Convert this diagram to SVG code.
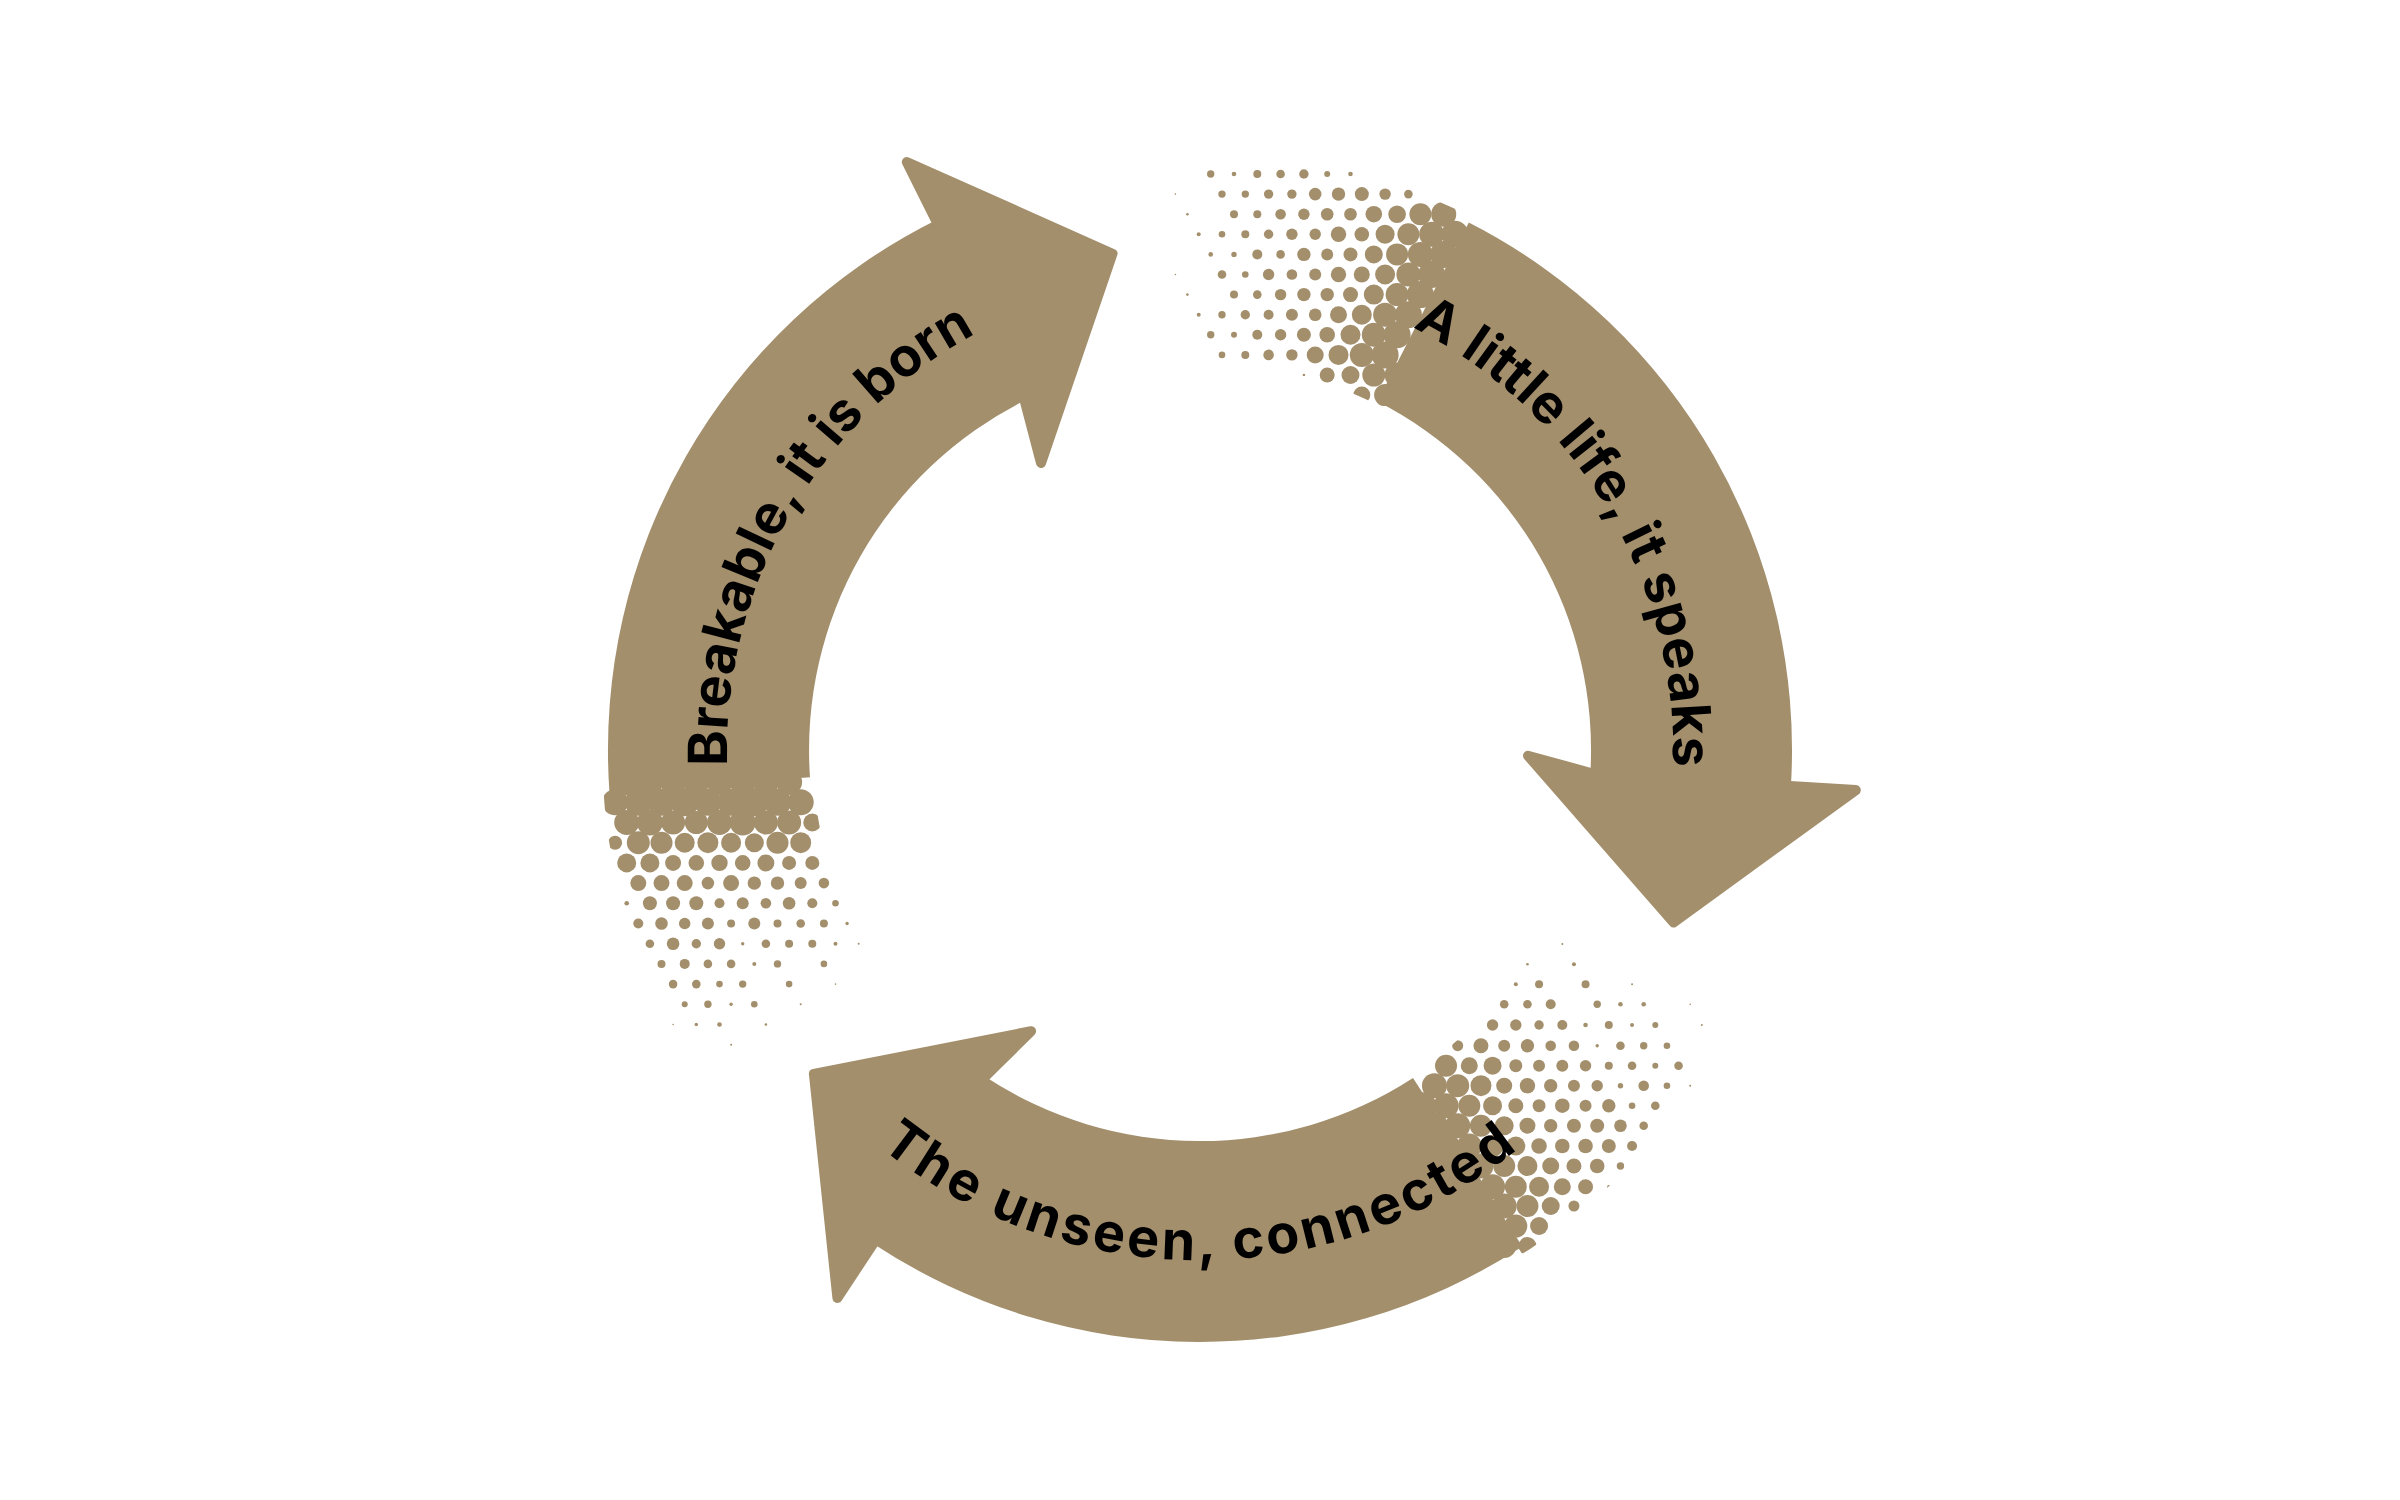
<svg xmlns="http://www.w3.org/2000/svg" width="2400" height="1500" viewBox="0 0 2400 1500">
<style>
.body{fill:#a38f6c}
.head{fill:#a38f6c;stroke:#a38f6c;stroke-width:10;stroke-linejoin:round}
.dots{fill:#a38f6c}
.label{font-family:Inter,'Noto Sans',sans-serif;font-weight:700;font-size:54px;fill:#000}
</style>
<defs>
<clipPath id="band"><path clip-rule="evenodd" d="M1798,750 A598,598 0 1 0 602,750 A598,598 0 1 0 1798,750 Z M1588,750 A388,388 0 1 0 812,750 A388,388 0 1 0 1588,750 Z"/></clipPath>
<path id="p-born" d="M790.8,987.2 A473,473 0 0 1 1199.2,277"/>
<path id="p-speaks" d="M1195,277 A473,473 0 0 1 1612.1,982.2"/>
<path id="p-connected" d="M758.3,1005 A510,510 0 0 0 1641.7,1005"/>
</defs>
<rect width="2400" height="1500" fill="#fff"/>
<g id="cycle">
<g id="arrow-born">
<path class="body" d="M609.4,791.3 A592,592 0 0 1 935.9,220.2 L1025.5,400.1 A391,391 0 0 0 810,777.3 Z"/>
<polygon class="head" points="938.1,224.7 906.8,162 1112.5,253.7 1041,463.1 1023.3,395.6"/>
<g class="dots" clip-path="url(#band)">
<circle cx="626.7" cy="782.1" r="13"/><circle cx="649.9" cy="782.1" r="13"/><circle cx="673.1" cy="782.1" r="13"/><circle cx="696.3" cy="782.1" r="13"/><circle cx="719.5" cy="782.1" r="13"/><circle cx="742.7" cy="782.1" r="13"/><circle cx="765.9" cy="782.1" r="13"/><circle cx="789.1" cy="782.1" r="13"/>
<circle cx="615.1" cy="802.3" r="13"/><circle cx="638.3" cy="802.3" r="13.5"/><circle cx="661.5" cy="802.3" r="13.5"/><circle cx="684.7" cy="802.3" r="14"/><circle cx="707.9" cy="802.3" r="13.5"/><circle cx="731.1" cy="802.3" r="13.5"/><circle cx="754.3" cy="802.3" r="14"/><circle cx="777.5" cy="802.3" r="13.5"/><circle cx="800.7" cy="802.3" r="13"/>
<circle cx="626.7" cy="822.5" r="12.5"/><circle cx="649.9" cy="822.5" r="13"/><circle cx="673.1" cy="822.5" r="12"/><circle cx="696.3" cy="822.5" r="11.5"/><circle cx="719.5" cy="822.5" r="12.5"/><circle cx="742.7" cy="822.5" r="13"/><circle cx="765.9" cy="822.5" r="12"/><circle cx="789.1" cy="822.5" r="12"/><circle cx="812.3" cy="822.5" r="9"/>
<circle cx="615.1" cy="842.7" r="7"/><circle cx="638.3" cy="842.7" r="11.5"/><circle cx="661.5" cy="842.7" r="11"/><circle cx="684.7" cy="842.7" r="10"/><circle cx="707.9" cy="842.7" r="10.5"/><circle cx="731.1" cy="842.7" r="10"/><circle cx="754.3" cy="842.7" r="9.5"/><circle cx="777.5" cy="842.7" r="11"/><circle cx="800.7" cy="842.7" r="10.5"/>
<circle cx="626.7" cy="862.9" r="9.5"/><circle cx="649.9" cy="862.9" r="9.5"/><circle cx="673.1" cy="862.9" r="8"/><circle cx="696.3" cy="862.9" r="7.8"/><circle cx="719.5" cy="862.9" r="8.2"/><circle cx="742.7" cy="862.9" r="7.8"/><circle cx="765.9" cy="862.9" r="8.5"/><circle cx="789.1" cy="862.9" r="7"/><circle cx="812.3" cy="862.9" r="7"/>
<circle cx="638.3" cy="883.1" r="8"/><circle cx="661.5" cy="883.1" r="8"/><circle cx="684.7" cy="883.1" r="8"/><circle cx="707.9" cy="883.1" r="6.3"/><circle cx="731.1" cy="883.1" r="8"/><circle cx="754.3" cy="883.1" r="6.7"/><circle cx="777.5" cy="883.1" r="6.7"/><circle cx="800.7" cy="883.1" r="6"/><circle cx="823.9" cy="883.1" r="5.3"/>
<circle cx="626.7" cy="903.3" r="2.3"/><circle cx="649.9" cy="903.3" r="7"/><circle cx="673.1" cy="903.3" r="7"/><circle cx="696.3" cy="903.3" r="7"/><circle cx="719.5" cy="903.3" r="5"/><circle cx="742.7" cy="903.3" r="6"/><circle cx="765.9" cy="903.3" r="5.3"/><circle cx="789.1" cy="903.3" r="6.3"/><circle cx="812.3" cy="903.3" r="5"/><circle cx="835.5" cy="903.3" r="3.3"/>
<circle cx="638.3" cy="923.5" r="5"/><circle cx="661.5" cy="923.5" r="6.3"/><circle cx="684.7" cy="923.5" r="5.7"/><circle cx="707.9" cy="923.5" r="6"/><circle cx="731.1" cy="923.5" r="4"/><circle cx="754.3" cy="923.5" r="6"/><circle cx="777.5" cy="923.5" r="4"/><circle cx="800.7" cy="923.5" r="4.3"/><circle cx="823.9" cy="923.5" r="4"/><circle cx="847.1" cy="923.5" r="1.7"/>
<circle cx="649.9" cy="943.7" r="4.3"/><circle cx="673.1" cy="943.7" r="6.3"/><circle cx="696.3" cy="943.7" r="4.7"/><circle cx="719.5" cy="943.7" r="5.7"/><circle cx="742.7" cy="943.7" r="1.7"/><circle cx="765.9" cy="943.7" r="4.3"/><circle cx="789.1" cy="943.7" r="4"/><circle cx="812.3" cy="943.7" r="4"/><circle cx="835.5" cy="943.7" r="2"/><circle cx="858.7" cy="943.7" r="1"/>
<circle cx="661.5" cy="963.9" r="4"/><circle cx="684.7" cy="963.9" r="5"/><circle cx="707.9" cy="963.9" r="4.3"/><circle cx="731.1" cy="963.9" r="4.3"/><circle cx="754.3" cy="963.9" r="2"/><circle cx="777.5" cy="963.9" r="3.7"/><circle cx="823.9" cy="963.9" r="3.3"/>
<circle cx="673.1" cy="984.1" r="4.3"/><circle cx="696.3" cy="984.1" r="4.3"/><circle cx="719.5" cy="984.1" r="3.3"/><circle cx="742.7" cy="984.1" r="3.7"/><circle cx="789.1" cy="984.1" r="3.3"/><circle cx="835.5" cy="984.1" r="0.8"/>
<circle cx="684.7" cy="1004.3" r="3"/><circle cx="707.9" cy="1004.3" r="3.7"/><circle cx="731.1" cy="1004.3" r="1.7"/><circle cx="754.3" cy="1004.3" r="3.3"/><circle cx="800.7" cy="1004.3" r="1"/>
<circle cx="673.1" cy="1024.5" r="0.8"/><circle cx="696.3" cy="1024.5" r="1.7"/><circle cx="719.5" cy="1024.5" r="2.3"/><circle cx="765.9" cy="1024.5" r="1.3"/>
<circle cx="731.1" cy="1044.7" r="1"/>
</g>
<text class="label" letter-spacing="0.2"><textPath href="#p-born" startOffset="50%" text-anchor="middle">Breakable, it is born</textPath></text>
</g>
<g id="arrow-speaks">
<path class="body" d="M1468.8,222.5 A592,592 0 0 1 1790.9,786.1 L1590.3,773.9 A391,391 0 0 0 1377.5,401.6 Z"/>
<polygon class="head" points="1785.9,785.8 1855.8,790.1 1673.6,922.4 1528,755.7 1595.3,774.2"/>
<g class="dots" clip-path="url(#band)">
<circle cx="1210.7" cy="174" r="3.7"/><circle cx="1234" cy="174" r="2.3"/><circle cx="1257.3" cy="174" r="4"/><circle cx="1280.6" cy="174" r="4.3"/><circle cx="1303.9" cy="174" r="4.7"/><circle cx="1327.2" cy="174" r="3"/><circle cx="1350.5" cy="174" r="2.3"/>
<circle cx="1175.4" cy="194.1" r="0.8"/><circle cx="1222" cy="194.1" r="3.7"/><circle cx="1245.3" cy="194.1" r="3.7"/><circle cx="1268.6" cy="194.1" r="4.7"/><circle cx="1291.9" cy="194.1" r="4.7"/><circle cx="1315.2" cy="194.1" r="6.3"/><circle cx="1338.5" cy="194.1" r="6.7"/><circle cx="1361.8" cy="194.1" r="7"/><circle cx="1385.1" cy="194.1" r="5.7"/><circle cx="1408.4" cy="194.1" r="4.3"/>
<circle cx="1187.4" cy="214.2" r="1.3"/><circle cx="1234" cy="214.2" r="4"/><circle cx="1257.3" cy="214.2" r="4"/><circle cx="1280.6" cy="214.2" r="5.3"/><circle cx="1303.9" cy="214.2" r="5.7"/><circle cx="1327.2" cy="214.2" r="6.3"/><circle cx="1350.5" cy="214.2" r="6.3"/><circle cx="1373.8" cy="214.2" r="8.3"/><circle cx="1397.1" cy="214.2" r="8.8"/><circle cx="1420.4" cy="214.2" r="11"/><circle cx="1443.7" cy="214.2" r="12.5"/>
<circle cx="1198.7" cy="234.3" r="2"/><circle cx="1222" cy="234.3" r="3.3"/><circle cx="1245.3" cy="234.3" r="4"/><circle cx="1268.6" cy="234.3" r="4.7"/><circle cx="1291.9" cy="234.3" r="5.7"/><circle cx="1315.2" cy="234.3" r="5.7"/><circle cx="1338.5" cy="234.3" r="7.7"/><circle cx="1361.8" cy="234.3" r="7.3"/><circle cx="1385.1" cy="234.3" r="9.5"/><circle cx="1408.4" cy="234.3" r="11"/><circle cx="1431.7" cy="234.3" r="12.5"/><circle cx="1455" cy="234.3" r="13.5"/>
<circle cx="1210.7" cy="254.4" r="2.3"/><circle cx="1234" cy="254.4" r="2.7"/><circle cx="1257.3" cy="254.4" r="5"/><circle cx="1280.6" cy="254.4" r="4.3"/><circle cx="1303.9" cy="254.4" r="6.7"/><circle cx="1327.2" cy="254.4" r="6"/><circle cx="1350.5" cy="254.4" r="7"/><circle cx="1373.8" cy="254.4" r="9"/><circle cx="1397.1" cy="254.4" r="11"/><circle cx="1420.4" cy="254.4" r="12.5"/><circle cx="1443.7" cy="254.4" r="13.5"/>
<circle cx="1175.4" cy="274.5" r="0.8"/><circle cx="1222" cy="274.5" r="4.3"/><circle cx="1245.3" cy="274.5" r="3.3"/><circle cx="1268.6" cy="274.5" r="5.7"/><circle cx="1291.9" cy="274.5" r="5.3"/><circle cx="1315.2" cy="274.5" r="6"/><circle cx="1338.5" cy="274.5" r="7.7"/><circle cx="1361.8" cy="274.5" r="8"/><circle cx="1385.1" cy="274.5" r="10"/><circle cx="1408.4" cy="274.5" r="12"/><circle cx="1431.7" cy="274.5" r="13.5"/>
<circle cx="1187.4" cy="294.6" r="1.3"/><circle cx="1234" cy="294.6" r="4"/><circle cx="1257.3" cy="294.6" r="4.3"/><circle cx="1280.6" cy="294.6" r="5.7"/><circle cx="1303.9" cy="294.6" r="6.7"/><circle cx="1327.2" cy="294.6" r="6.7"/><circle cx="1350.5" cy="294.6" r="7.5"/><circle cx="1373.8" cy="294.6" r="10"/><circle cx="1397.1" cy="294.6" r="11.5"/><circle cx="1420.4" cy="294.6" r="13.5"/>
<circle cx="1198.7" cy="314.7" r="2"/><circle cx="1222" cy="314.7" r="3.7"/><circle cx="1245.3" cy="314.7" r="4.7"/><circle cx="1268.6" cy="314.7" r="5"/><circle cx="1291.9" cy="314.7" r="6"/><circle cx="1315.2" cy="314.7" r="6.3"/><circle cx="1338.5" cy="314.7" r="8.5"/><circle cx="1361.8" cy="314.7" r="10"/><circle cx="1385.1" cy="314.7" r="12"/><circle cx="1408.4" cy="314.7" r="13.5"/>
<circle cx="1210.7" cy="334.8" r="3.7"/><circle cx="1234" cy="334.8" r="3"/><circle cx="1257.3" cy="334.8" r="5"/><circle cx="1280.6" cy="334.8" r="5.7"/><circle cx="1303.9" cy="334.8" r="7"/><circle cx="1327.2" cy="334.8" r="7.8"/><circle cx="1350.5" cy="334.8" r="10"/><circle cx="1373.8" cy="334.8" r="12"/><circle cx="1397.1" cy="334.8" r="13.5"/>
<circle cx="1222" cy="354.9" r="3.3"/><circle cx="1245.3" cy="354.9" r="4"/><circle cx="1268.6" cy="354.9" r="5.3"/><circle cx="1291.9" cy="354.9" r="5.7"/><circle cx="1315.2" cy="354.9" r="8.5"/><circle cx="1338.5" cy="354.9" r="10"/><circle cx="1361.8" cy="354.9" r="12"/><circle cx="1385.1" cy="354.9" r="13.5"/>
<circle cx="1303.9" cy="375" r="1.3"/><circle cx="1327.2" cy="375" r="7.5"/><circle cx="1350.5" cy="375" r="9"/><circle cx="1373.8" cy="375" r="11.5"/><circle cx="1397.1" cy="375" r="12.5"/>
<circle cx="1361.8" cy="395.1" r="8.5"/><circle cx="1385.1" cy="395.1" r="11"/>
</g>
<text class="label" letter-spacing="0.5"><textPath href="#p-speaks" startOffset="50%" text-anchor="middle">A little life, it speaks</textPath></text>
</g>
<g id="arrow-connected">
<path class="body" d="M1522.4,1246.5 A592,592 0 0 1 873.3,1243.7 L984.2,1076.1 A391,391 0 0 0 1413,1077.9 Z"/>
<polygon class="head" points="876,1239.5 837.4,1297.9 813.9,1074 1031.1,1031.2 981.4,1080.2"/>
<g class="dots" clip-path="url(#band)">
<circle cx="1562.3" cy="944" r="1"/>
<circle cx="1527.45" cy="964.3" r="1.3"/><circle cx="1573.95" cy="964.3" r="2"/>
<circle cx="1515.8" cy="984.3" r="2"/><circle cx="1539.05" cy="984.3" r="4"/><circle cx="1585.55" cy="984.3" r="4"/><circle cx="1632.05" cy="984.3" r="1"/>
<circle cx="1504.2" cy="1004.3" r="4.3"/><circle cx="1527.45" cy="1004.3" r="4.3"/><circle cx="1550.7" cy="1004.3" r="5"/><circle cx="1597.2" cy="1004.3" r="3.7"/><circle cx="1620.45" cy="1004.3" r="2.3"/><circle cx="1643.7" cy="1004.3" r="2.3"/><circle cx="1690.2" cy="1004.3" r="0.8"/>
<circle cx="1469.3" cy="1025" r="1"/><circle cx="1492.55" cy="1025" r="5.7"/><circle cx="1515.8" cy="1025" r="5.7"/><circle cx="1539.05" cy="1025" r="4.7"/><circle cx="1562.3" cy="1025" r="5"/><circle cx="1585.55" cy="1025" r="2.3"/><circle cx="1608.8" cy="1025" r="4"/><circle cx="1632.05" cy="1025" r="2"/><circle cx="1655.3" cy="1025" r="3"/><circle cx="1701.8" cy="1025" r="1"/>
<circle cx="1457.7" cy="1045.7" r="5.5"/><circle cx="1480.95" cy="1045.7" r="7.5"/><circle cx="1504.2" cy="1045.7" r="6"/><circle cx="1527.45" cy="1045.7" r="6.7"/><circle cx="1550.7" cy="1045.7" r="5.3"/><circle cx="1573.95" cy="1045.7" r="5.3"/><circle cx="1597.2" cy="1045.7" r="1.7"/><circle cx="1620.45" cy="1045.7" r="4.3"/><circle cx="1643.7" cy="1045.7" r="3.7"/><circle cx="1666.95" cy="1045.7" r="3.3"/>
<circle cx="1446.05" cy="1065.7" r="11"/><circle cx="1469.3" cy="1065.7" r="8.5"/><circle cx="1492.55" cy="1065.7" r="9"/><circle cx="1515.8" cy="1065.7" r="6.5"/><circle cx="1539.05" cy="1065.7" r="6"/><circle cx="1562.3" cy="1065.7" r="6"/><circle cx="1585.55" cy="1065.7" r="5.7"/><circle cx="1608.8" cy="1065.7" r="4"/><circle cx="1632.05" cy="1065.7" r="4.3"/><circle cx="1655.3" cy="1065.7" r="3"/><circle cx="1678.55" cy="1065.7" r="4.3"/>
<circle cx="1434.45" cy="1085.7" r="12.5"/><circle cx="1457.7" cy="1085.7" r="11.5"/><circle cx="1480.95" cy="1085.7" r="10.5"/><circle cx="1504.2" cy="1085.7" r="8"/><circle cx="1527.45" cy="1085.7" r="7.7"/><circle cx="1550.7" cy="1085.7" r="6.7"/><circle cx="1573.95" cy="1085.7" r="6"/><circle cx="1597.2" cy="1085.7" r="5.7"/><circle cx="1620.45" cy="1085.7" r="2.7"/><circle cx="1643.7" cy="1085.7" r="5.3"/><circle cx="1666.95" cy="1085.7" r="3.3"/><circle cx="1690.2" cy="1085.7" r="1"/>
<circle cx="1422.8" cy="1105.7" r="13.5"/><circle cx="1446.05" cy="1105.7" r="12.5"/><circle cx="1469.3" cy="1105.7" r="11"/><circle cx="1492.55" cy="1105.7" r="9.5"/><circle cx="1515.8" cy="1105.7" r="7.5"/><circle cx="1539.05" cy="1105.7" r="6.5"/><circle cx="1562.3" cy="1105.7" r="7.3"/><circle cx="1585.55" cy="1105.7" r="6"/><circle cx="1608.8" cy="1105.7" r="6.7"/><circle cx="1632.05" cy="1105.7" r="3.3"/><circle cx="1655.3" cy="1105.7" r="4.3"/>
<circle cx="1434.45" cy="1125.7" r="13.5"/><circle cx="1457.7" cy="1125.7" r="12.5"/><circle cx="1480.95" cy="1125.7" r="11"/><circle cx="1504.2" cy="1125.7" r="9.5"/><circle cx="1527.45" cy="1125.7" r="8"/><circle cx="1550.7" cy="1125.7" r="6.7"/><circle cx="1573.95" cy="1125.7" r="7"/><circle cx="1597.2" cy="1125.7" r="7"/><circle cx="1620.45" cy="1125.7" r="6.3"/><circle cx="1643.7" cy="1125.7" r="4.3"/>
<circle cx="1446.05" cy="1146" r="13.5"/><circle cx="1469.3" cy="1146" r="12.5"/><circle cx="1492.55" cy="1146" r="11"/><circle cx="1515.8" cy="1146" r="9.5"/><circle cx="1539.05" cy="1146" r="7.8"/><circle cx="1562.3" cy="1146" r="7.3"/><circle cx="1585.55" cy="1146" r="7.3"/><circle cx="1608.8" cy="1146" r="7"/><circle cx="1632.05" cy="1146" r="5"/>
<circle cx="1457.7" cy="1166" r="13.5"/><circle cx="1480.95" cy="1166" r="12.5"/><circle cx="1504.2" cy="1166" r="11"/><circle cx="1527.45" cy="1166" r="10"/><circle cx="1550.7" cy="1166" r="8.5"/><circle cx="1573.95" cy="1166" r="7.5"/><circle cx="1597.2" cy="1166" r="7.3"/><circle cx="1620.45" cy="1166" r="3.7"/>
<circle cx="1469.3" cy="1186.7" r="13.5"/><circle cx="1492.55" cy="1186.7" r="12.5"/><circle cx="1515.8" cy="1186.7" r="11"/><circle cx="1539.05" cy="1186.7" r="10"/><circle cx="1562.3" cy="1186.7" r="8.5"/><circle cx="1585.55" cy="1186.7" r="7.5"/><circle cx="1608.8" cy="1186.7" r="1.7"/>
<circle cx="1480.95" cy="1206" r="13.5"/><circle cx="1504.2" cy="1206" r="12.5"/><circle cx="1527.45" cy="1206" r="11"/><circle cx="1550.7" cy="1206" r="9"/><circle cx="1573.95" cy="1206" r="5.5"/>
<circle cx="1492.55" cy="1226" r="13.5"/><circle cx="1515.8" cy="1226" r="11.5"/><circle cx="1539.05" cy="1226" r="9"/>
<circle cx="1504.2" cy="1246" r="12"/><circle cx="1527.45" cy="1246" r="9"/>
</g>
<text class="label" letter-spacing="3.4"><textPath href="#p-connected" startOffset="50%" text-anchor="middle">The unseen, connected</textPath></text>
</g>
</g>
</svg>
